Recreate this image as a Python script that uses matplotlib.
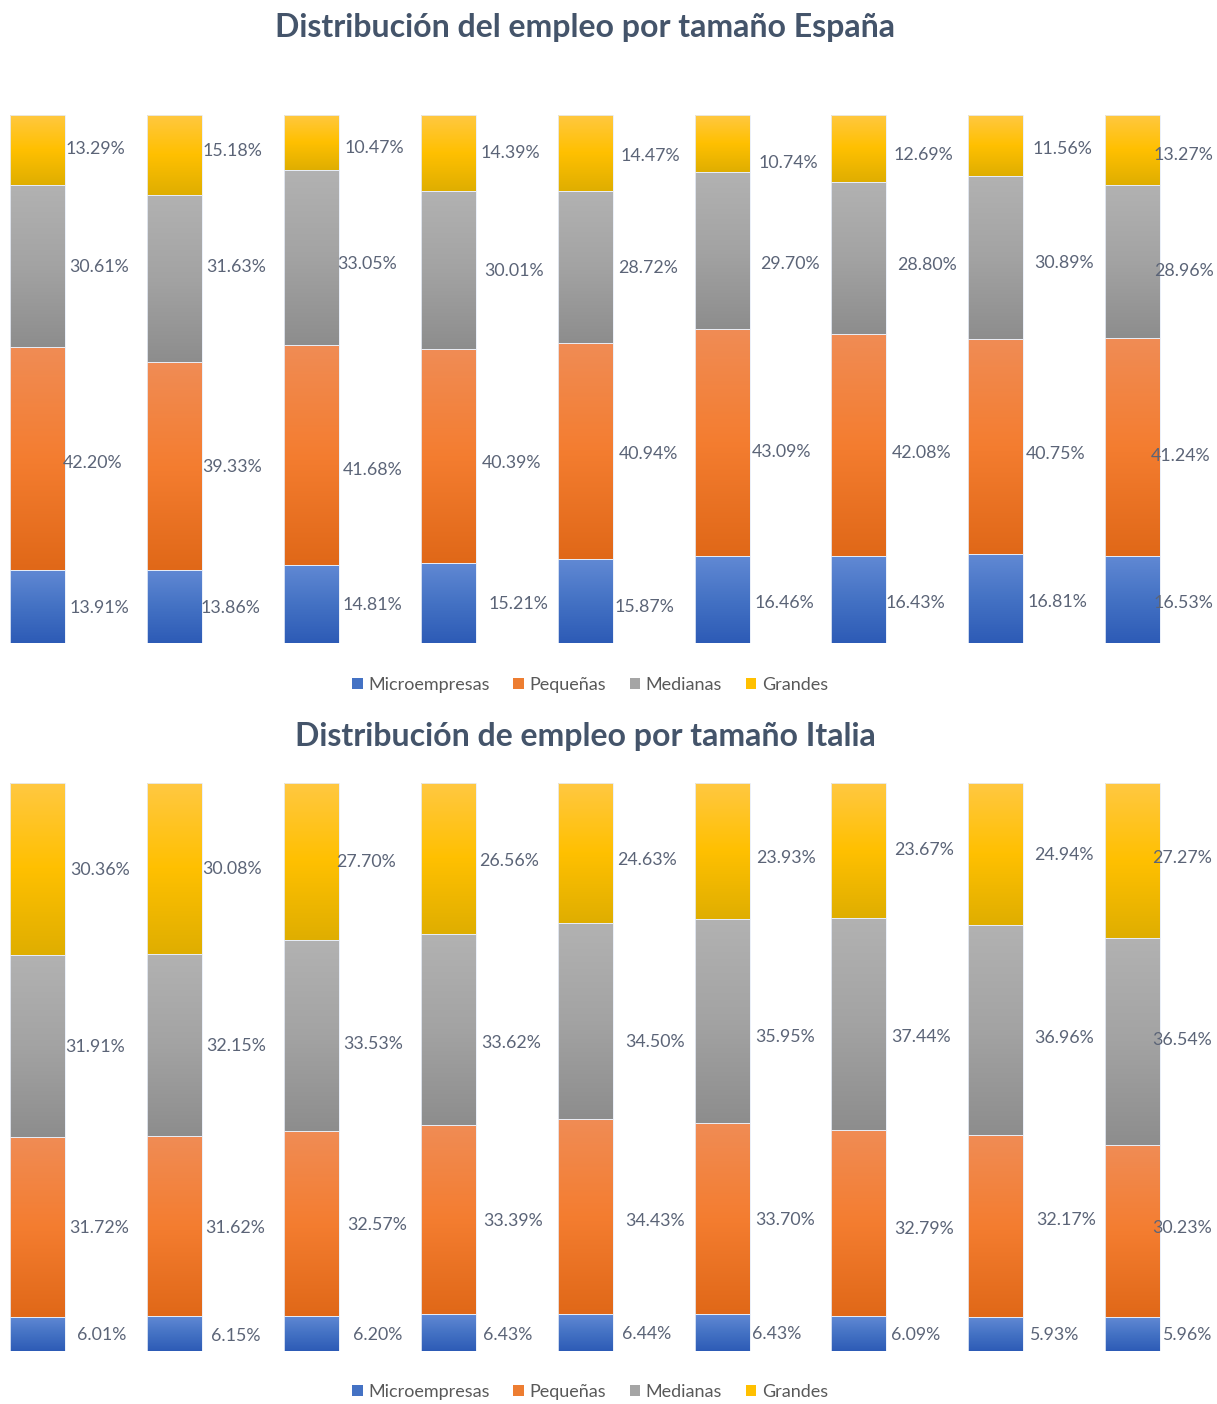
import numpy as np
import matplotlib
matplotlib.use("Agg")
import matplotlib.pyplot as plt
from matplotlib.colors import LinearSegmentedColormap
from matplotlib.patches import Patch

plt.rcParams['font.family'] = ['Lato', 'DejaVu Sans']

series = ["Microempresas", "Pequeñas", "Medianas", "Grandes"]

# Spain, share of employment by company size (%)
es_micro = [13.91, 13.86, 14.81, 15.21, 15.87, 16.46, 16.43, 16.81, 16.53]
es_peq = [42.20, 39.33, 41.68, 40.39, 40.94, 43.09, 42.08, 40.75, 41.24]
es_med = [30.61, 31.63, 33.05, 30.01, 28.72, 29.70, 28.80, 30.89, 28.96]
es_gran = [13.29, 15.18, 10.47, 14.39, 14.47, 10.74, 12.69, 11.56, 13.27]

# Italy
it_micro = [6.01, 6.15, 6.20, 6.43, 6.44, 6.43, 6.09, 5.93, 5.96]
it_peq = [31.72, 31.62, 32.57, 33.39, 34.43, 33.70, 32.79, 32.17, 30.23]
it_med = [31.91, 32.15, 33.53, 33.62, 34.50, 35.95, 37.44, 36.96, 36.54]
it_gran = [30.36, 30.08, 27.70, 26.56, 24.63, 23.93, 23.67, 24.94, 27.27]

# hand-placed label offsets in px (x from bar centre, y downward from segment centre)
# one row per bar, columns micro / peq / med / gran
es_lx = [[62, 55, 62, 58], [56, 58, 62, 58], [61, 61, 56, 63], [70, 63, 66, 62],
         [59, 63, 63, 65], [62, 60, 68, 66], [56, 63, 68, 64], [62, 60, 68, 67],
         [51, 48, 51, 51]]
es_ly = [[2, 5, 1, -1], [2, 1, -12, -4], [1, 15, 7, 5], [1, 7, 1, 0],
         [6, 3, 1, 3], [3, 10, 14, 20], [3, 8, 7, 6], [3, 7, 5, 4],
         [4, 9, 9, 5]]
it_lx = [[64, 62, 58, 63], [61, 61, 62, 58], [66, 66, 62, 55], [59, 65, 63, 61],
         [62, 70, 70, 62], [55, 63, 63, 64], [57, 65, 62, 65], [58, 70, 68, 68],
         [54, 49, 49, 49]]
it_ly = [[1, 1, 1, 1], [2, 2, 1, 1], [2, 2, 8, 0], [2, 1, 14, 3],
         [1, 4, 21, 7], [1, 1, 16, 7], [1, 6, 13, 0], [1, -6, 8, 1],
         [1, -3, -2, -2]]

# flat colours for the legend, gradient stops (top, middle, bottom) for bars
flat = ["#4472C4", "#ED7D31", "#A5A5A5", "#FFC000"]
grads = [
    ["#6189D4", "#4472C4", "#2D5BB6"],
    ["#F08C55", "#F47D30", "#E06818"],
    ["#B2B2B2", "#A3A3A3", "#8D8D8D"],
    ["#FFC842", "#FFC000", "#DFAE00"],
]
cmaps = [LinearSegmentedColormap.from_list("g%d" % k, g[::-1]) for k, g in enumerate(grads)]

label_col = "#5B6477"
title_col = "#44546A"

W, H = 1217, 1404
fig = plt.figure(figsize=(W / 100, H / 100), dpi=100)

step = 136.9   # px between bar centres
x0px = 37.5    # px of first bar centre
bw = 55 / step


def panel(top_px, bot_px, data, lx, ly, title, title_y, legend_y):
    ax = fig.add_axes([0, 1 - bot_px / H, 1, (bot_px - top_px) / H])
    ypx = (bot_px - top_px) / 100.0   # px per percent
    grad = np.linspace(0, 1, 256).reshape(-1, 1)
    n = len(data[0])
    for i in range(n):
        base = 0
        for k, vals in enumerate(data):
            v = vals[i]
            ax.imshow(grad, cmap=cmaps[k], origin="lower", aspect="auto",
                      extent=[i - bw / 2, i + bw / 2, base, base + v],
                      interpolation="bilinear", zorder=2)
            ax.bar(i, v, bw, bottom=base, facecolor="none",
                   edgecolor="#E8EEF8", linewidth=0.6, zorder=3)
            ax.text(i + lx[i][k] / step, base + v / 2 - ly[i][k] / ypx,
                    "%.2f%%" % v, ha="center", va="center", fontsize=12.8,
                    color=label_col, zorder=4)
            base += v
    ax.set_xlim(-x0px / step, (W - x0px) / step)
    ax.set_ylim(0, 100)
    ax.axis("off")
    fig.text(585 / W, 1 - title_y / H, title, ha="center", va="center",
             fontsize=23, fontweight="bold", color=title_col)
    handles = [Patch(facecolor=c, edgecolor="none") for c in flat]
    fig.legend(handles, series, loc="center", bbox_to_anchor=(590 / W, 1 - legend_y / H),
               ncol=4, frameon=False, fontsize=13, handlelength=0.6,
               handleheight=0.6, handletextpad=0.3, columnspacing=1.3,
               labelcolor="#595959")


panel(115, 643, [es_micro, es_peq, es_med, es_gran], es_lx, es_ly,
      "Distribución del empleo por tamaño España", 27, 685)
panel(783, 1351, [it_micro, it_peq, it_med, it_gran], it_lx, it_ly,
      "Distribución de empleo por tamaño Italia", 737, 1392)

fig.savefig("out.png", dpi=100, facecolor="white")
